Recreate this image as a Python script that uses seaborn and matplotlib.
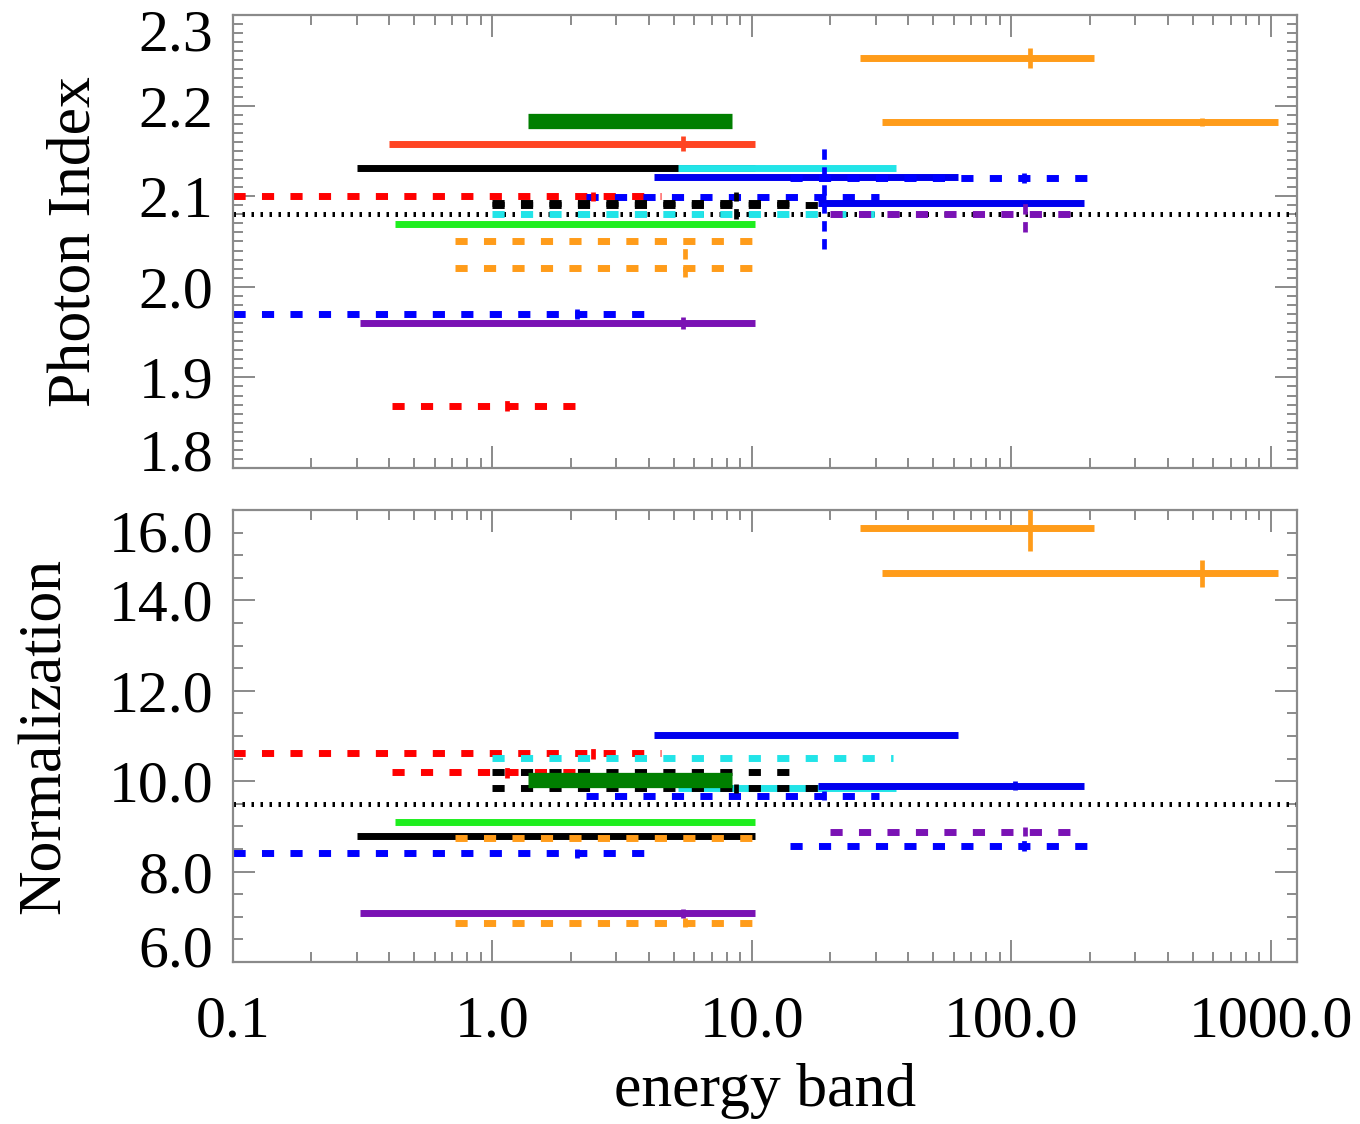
import numpy as np
import pandas as pd
import matplotlib
matplotlib.use("Agg")
import matplotlib.pyplot as plt
import seaborn as sns
from matplotlib.ticker import MultipleLocator, LogLocator, FuncFormatter, NullFormatter
from matplotlib.transforms import ScaledTranslation

nan = np.nan

# Band fits: energy range, photon index, normalization
names = ["black", "cyan", "tomato", "red_dash_a", "blue_dash_b", "cyan_dash",
         "black_dash_a", "black_dash_b", "blue_f", "blue_dash_long", "blue_g",
         "purple_dash", "green", "orange_dash_a", "orange_dash_b", "blue_dash_l",
         "purple", "red_dash_n", "orange_o", "orange_p", "green_thick"]
e_lo = [0.30, 5.2, 0.40, 0.10, 2.3, 1.0, 1.0, 1.0, 4.2, 14.0, 18.0,
        20.0, 0.42, 0.72, 0.72, 0.10, 0.31, 0.41, 26.0, 31.6, 1.37]
e_hi = [10.3, 36.0, 10.3, 4.47, 31.0, 35.0, 20.6, 14.6, 62.0, 208.0, 190.0,
        190.0, 10.3, 10.2, 10.2, 4.1, 10.3, 2.3, 208.0, 1064.0, 8.4]
gamma = [2.131, 2.131, 2.158, 2.100, 2.099, 2.080, 2.090, 2.092, 2.121, 2.120, 2.092,
         2.080, 2.069, 2.050, 2.021, 1.970, 1.960, 1.869, 2.252, 2.182, 2.183]
norm = [8.79, 9.85, nan, 10.62, 9.68, 10.51, 9.85, 10.20, 11.02, 8.57, 9.90,
        8.88, 9.10, 8.75, 6.87, 8.41, 7.08, 10.20, 15.6, 14.6, 10.03]

# error bars: energy of the point, photon index errors (low, high), normalization error
err_e = [nan, nan, 5.4, 2.44, 19.0, nan, 8.7, nan, nan, 112.0, 103.0,
         113.0, nan, nan, 5.5, 2.12, 5.4, 1.14, 118.0, 543.0, nan]
gamma_err_lo = [0, 0, 0.008, 0.005, 0.057, 0, 0.015, 0, 0, 0.006, 0,
                0.019, 0, 0, 0.010, 0.006, 0.007, 0.006, 0.011, 0.004, 0]
gamma_err_hi = [0, 0, 0.008, 0.005, 0.057, 0, 0.015, 0, 0, 0.006, 0,
                0.019, 0, 0, 0.025, 0.006, 0.007, 0.006, 0.011, 0.004, 0]
norm_err = [0, 0, 0, 0.12, 0.10, 0, 0.10, 0, 0, 0.12, 0.10,
            0.10, 0, 0, 0.10, 0.10, 0.10, 0.12, 0.50, 0.30, 0]

gamma_ref = 2.08
norm_ref = 9.5

x_ticks = [0.1, 1.0, 10.0, 100.0, 1000.0]
gamma_ticks = [1.8, 1.9, 2.0, 2.1, 2.2, 2.3]
norm_ticks = [6.0, 8.0, 10.0, 12.0, 14.0, 16.0]

# styles
palette = {
    "black": "black", "cyan": "#22E4E8", "tomato": "#FF4422", "red_dash_a": "#FF0000",
    "blue_dash_b": "#0000FF", "cyan_dash": "#22E4E8", "black_dash_a": "black",
    "black_dash_b": "black", "blue_f": "#0000EE", "blue_dash_long": "#0000FF",
    "blue_g": "#0000EE", "purple_dash": "#7A12B4", "green": "#1EEE1E",
    "orange_dash_a": "#FF9C1A", "orange_dash_b": "#FF9C1A", "blue_dash_l": "#0000FF",
    "purple": "#7A12B4", "red_dash_n": "#FF0000", "orange_o": "#FF9C1A",
    "orange_p": "#FF9C1A", "green_thick": "#007F00",
}
dash = (1.75, 2.35)
dashes = {n: (dash if "dash" in n else "") for n in names}
sizes = {n: 5.0 for n in names}
sizes["green_thick"] = 11.0

sns.set_theme(style="ticks")
plt.rcParams["font.family"] = ["Liberation Serif", "DejaVu Serif"]
plt.rcParams["lines.solid_capstyle"] = "butt"
plt.rcParams["lines.dash_capstyle"] = "butt"
plt.rcParams["text.color"] = "black"
plt.rcParams["axes.labelcolor"] = "black"

rows = []
for i, n in enumerate(names):
    for e in (e_lo[i], e_hi[i]):
        rows.append({"name": n, "energy": e, "gamma": gamma[i], "norm": norm[i]})
df = pd.DataFrame(rows)

fig = plt.figure(figsize=(13.6, 11.24), dpi=100)
ax1 = fig.add_axes([0.1713, 0.5836, 0.7824, 0.4031])
ax2 = fig.add_axes([0.1713, 0.1441, 0.7824, 0.4021], sharex=ax1)

axis_grey = "#8a8a8a"
fs = 43
lab_fs = 44.5

for ax, col, ref, lo_err, hi_err in [(ax1, "gamma", gamma_ref, gamma_err_lo, gamma_err_hi),
                                     (ax2, "norm", norm_ref, norm_err, norm_err)]:
    ax.set_xscale("log")
    ax.axhline(ref, color="black", lw=3.6, dashes=(0.5, 1.3), zorder=1.5)
    sub = df.dropna(subset=[col])
    sns.lineplot(data=sub, x="energy", y=col, hue="name", style="name", size="name",
                 palette=palette, dashes=dashes, sizes=sizes, hue_order=names,
                 style_order=names, size_order=names, estimator=None, sort=False,
                 legend=False, ax=ax)
    vals = np.array(gamma if col == "gamma" else norm, dtype=float)
    xe = np.array(err_e, dtype=float)
    ok = ~np.isnan(xe) & ~np.isnan(vals)
    sel = [n for n, k in zip(names, ok) if k]
    ax.vlines(xe[ok], vals[ok] - np.array(lo_err)[ok], vals[ok] + np.array(hi_err)[ok],
              colors=[palette[n] for n in sel],
              linestyles=[(0, (2.2, 1.6)) if "dash" in n else "solid" for n in sel],
              lw=3.4, zorder=3)

    for s in ax.spines.values():
        s.set_color(axis_grey)
        s.set_linewidth(1.6)
    ax.tick_params(which="both", direction="in", top=True, right=True,
                   color=axis_grey, labelcolor="black", width=1.4, labelsize=fs, pad=14)
    ax.tick_params(which="major", length=16)
    ax.tick_params(which="minor", length=7)
    ax.set_xlabel("")

ax1.set_xscale("log")
ax1.set_xlim(0.1, 1260)
ax1.set_xticks(x_ticks)
ax1.xaxis.set_minor_locator(LogLocator(base=10, subs=np.arange(2, 10), numticks=20))
ax1.xaxis.set_major_formatter(FuncFormatter(lambda v, p: f"{v:.1f}"))
ax1.xaxis.set_minor_formatter(NullFormatter())
ax1.tick_params(axis="x", labelbottom=False)

ax1.set_ylim(1.8, 2.3)
ax1.set_yticks(gamma_ticks)
ax1.yaxis.set_minor_locator(MultipleLocator(0.01))
ax1.yaxis.set_major_formatter(FuncFormatter(lambda v, p: f"{v:.1f}"))
ax1.set_ylabel("Photon Index", fontsize=lab_fs, labelpad=26)

ax2.set_ylim(6, 16)
ax2.set_yticks(norm_ticks)
ax2.yaxis.set_minor_locator(MultipleLocator(0.5))
ax2.yaxis.set_major_formatter(FuncFormatter(lambda v, p: f"{v:.1f}"))
ax2.set_ylabel("Normalization", fontsize=lab_fs, labelpad=26)
ax2.tick_params(axis="x", which="major", pad=24)
ax2.set_xlabel("energy band", fontsize=lab_fs, labelpad=10)

# end labels on the y axes sit a little inside the frame
def nudge(tick, dy_px):
    lab = tick.label1
    lab.set_transform(lab.get_transform() + ScaledTranslation(0, dy_px / 100, fig.dpi_scale_trans))

t1 = ax1.yaxis.get_major_ticks()
nudge(t1[0], 18)
nudge(t1[-1], -15)
t2 = ax2.yaxis.get_major_ticks()
nudge(t2[0], 16)
nudge(t2[-1], -21)

fig.savefig("out.png", dpi=100)
